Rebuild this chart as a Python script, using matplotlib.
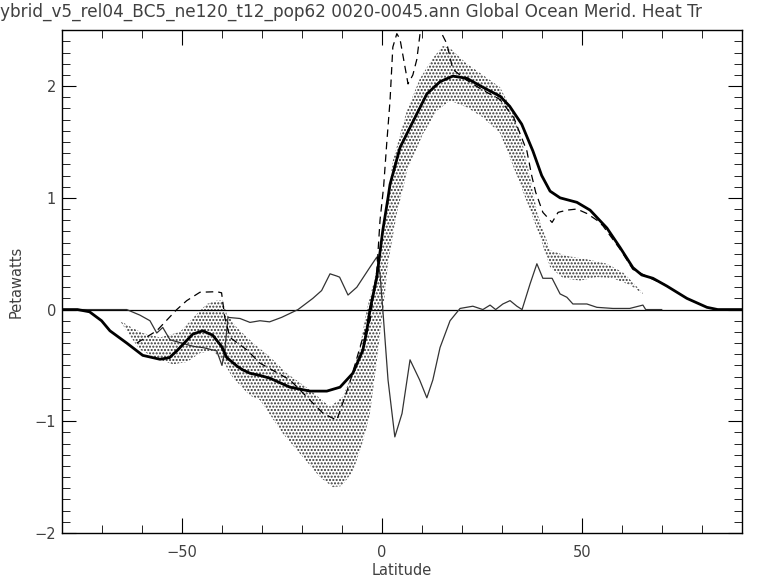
import numpy as np
import matplotlib.pyplot as plt

# model total transport (thick line)
lat_model = [-80, -76, -73, -70, -67.9, -63.7, -59.7, -55.4, -53, -51.2, -47.2, -44.7, -42.2, -40,
             -38.7, -36, -34.7, -32.9, -30.4, -27.9, -22.9, -17.9, -13.7, -10.4, -7.2, -4.7, -3.7,
             -2.9, -1.2, 0.3, 1.6, 2.1, 4.6, 7.1, 11.3, 14.6, 17.8, 21.3, 25.3, 29.6, 32, 35, 37.8,
             40, 42.1, 44.6, 48.8, 52.1, 56.3, 59.6, 62.8, 65, 67.8, 71.3, 76.3, 81.3, 84, 90]
ht_model = [0, 0, -0.02, -0.1, -0.19, -0.30, -0.41, -0.445, -0.43, -0.37, -0.22, -0.19, -0.23, -0.33,
            -0.43, -0.51, -0.54, -0.57, -0.59, -0.615, -0.695, -0.73, -0.73, -0.695, -0.57, -0.365, -0.19,
            0, 0.29, 0.71, 1.0, 1.12, 1.45, 1.63, 1.93, 2.04, 2.09, 2.07, 1.99, 1.91, 1.82, 1.66, 1.42,
            1.20, 1.06, 1.0, 0.96, 0.89, 0.73, 0.555, 0.375, 0.31, 0.28, 0.21, 0.10, 0.02, 0.0, 0]

# second component (thin line)
lat_comp = [-75, -67.9, -63.7, -60.4, -57.9, -56.2, -54.7, -52.9, -50, -47, -44.7, -41.2, -39.9, -39.2,
            -38.4, -35.4, -32.9, -30.4, -28, -25, -20.9, -17.2, -15, -12.9, -11.2, -10.5, -8.4, -6.2,
            -2.9, -1.2, -0.4, 0.4, 1.6, 3.3, 5.1, 7.1, 9.5, 11.3, 12.8, 14.6, 17.1, 19.6, 22.8, 25.3,
            27.1, 28.5, 30.3, 32.1, 33.8, 35.1, 37.1, 38.8, 40.3, 42.6, 44.6, 46.3, 47.8, 51.3, 53.8,
            57.8, 62, 65.3, 66, 70]
ht_comp = [0, 0, 0, -0.05, -0.1, -0.21, -0.16, -0.27, -0.30, -0.33, -0.34, -0.37, -0.5, -0.37,
           -0.07, -0.08, -0.115, -0.10, -0.11, -0.07, 0.0, 0.10, 0.17, 0.32, 0.30, 0.29, 0.13, 0.2,
           0.38, 0.47, 0.32, -0.05, -0.63, -1.14, -0.93, -0.45, -0.63, -0.79, -0.63, -0.34, -0.1, 0.01,
           0.03, 0, 0.04, 0, 0.05, 0.08, 0.03, 0, 0.23, 0.41, 0.28, 0.28, 0.14, 0.11, 0.05, 0.05, 0.02,
           0.01, 0.01, 0.04, 0.0, 0.0]

# observed estimate (dashed line)
lat_obs = [-61.2, -56.2, -51.2, -48.7, -45.4, -41.2, -40, -39.2, -37.9, -33.7, -30.4, -22.9, -14.6,
           -11.2, -8, -4.7, -2.9, -1.2, -0.4, 0.5, 1.3, 2.1, 2.8, 3.8, 4.6, 5.3, 6.6, 7.8, 8.8, 9.6,
           10.3, 12, 14.6, 16.3, 17.8, 21, 25, 29.6, 33, 36.3, 37.5, 38.5, 40.3, 42.6, 44.1, 46.3,
           48.8, 51.3, 53.8, 55.3, 59.6, 62.8, 67.8, 71]
ht_obs = [-0.30, -0.19, 0.0, 0.08, 0.155, 0.16, 0.15, -0.07, -0.25, -0.36, -0.48, -0.63, -0.93,
          -0.99, -0.66, -0.25, -0.1, 0.35, 0.80, 1.1, 1.5, 1.87, 2.35, 2.47, 2.42, 2.28, 2.02, 2.1,
          2.24, 2.47, 2.72, 2.9, 2.5, 2.38, 2.15, 2.06, 1.97, 1.88, 1.72, 1.42, 1.2, 1.05, 0.87, 0.78,
          0.87, 0.89, 0.90, 0.86, 0.80, 0.75, 0.54, 0.36, 0.27, 0.22]

# observational range (stippled band): upper and lower edges
lat_hi = [-65.4, -62, -59.7, -55.4, -50.4, -46.2, -43.7, -41.2, -39.7, -38.7, -36.2, -32.1, -28,
          -23.7, -17.9, -12.9, -9.7, -7, -5.5, -3.7, -0.4, 1.3, 2.1, 2.8, 6.3, 9.6, 12.8, 15.3, 17.1,
          21.3, 25.3, 29.6, 33, 35, 37, 39, 42.1, 46.3, 51.3, 56.3, 60.4, 65.3]
ht_hi = [-0.10, -0.17, -0.21, -0.25, -0.2, -0.04, 0.05, 0.08, 0.08, -0.04, -0.16, -0.30, -0.42,
         -0.57, -0.72, -0.87, -0.78, -0.55, -0.35, 0.0, 0.47, 0.86, 1.15, 1.33, 1.78, 2.07, 2.25, 2.36,
         2.34, 2.20, 2.1, 1.99, 1.75, 1.52, 1.2, 0.85, 0.53, 0.48, 0.45, 0.41, 0.33, 0.15]
lat_lo = [-65.4, -62, -60.4, -55.4, -52.2, -48.7, -45.4, -42.2, -39.7, -37.2, -32.9, -30.4, -24.7,
          -19.7, -15.4, -12.2, -10, -7.2, -5, -3, -1.5, -0.5, 0.4, 1.6, 3.8, 5.8, 6.3, 10.3, 13.8,
          17.1, 21.3, 25.3, 29.6, 33.8, 37.1, 39.6, 42.1, 45.4, 49.6, 53.8, 57.8, 62.1, 65.3]
ht_lo = [-0.10, -0.28, -0.36, -0.45, -0.49, -0.47, -0.39, -0.37, -0.46, -0.61, -0.77, -0.81, -1.11,
         -1.32, -1.50, -1.59, -1.58, -1.45, -1.22, -0.95, -0.55, -0.25, 0.0, 0.41, 0.86, 1.15, 1.24,
         1.57, 1.78, 1.87, 1.81, 1.72, 1.58, 1.2, 0.89, 0.65, 0.38, 0.28, 0.26, 0.29, 0.28, 0.22, 0.14]

title = "ybrid_v5_rel04_BC5_ne120_t12_pop62 0020-0045.ann Global Ocean Merid. Heat Tr"

plt.rcParams['hatch.linewidth'] = 1.0
txt_col = '0.25'

fig = plt.figure(figsize=(7.7, 5.77), dpi=100)
ax = fig.add_axes([0.0799, 0.0763, 0.8834, 0.8712])

# stippled band
ax.fill(np.r_[lat_hi, lat_lo[::-1]], np.r_[ht_hi, ht_lo[::-1]],
        facecolor='none', edgecolor='0.2', lw=0, hatch='.....')
ax.axhline(0, color='black', lw=0.9)
ax.plot(lat_comp, ht_comp, color='0.2', lw=0.9)
ax.plot(lat_obs, ht_obs, color='black', lw=0.9, dashes=(6, 4))
ax.plot(lat_model, ht_model, color='black', lw=2.0)

ax.set_xlim(-80, 90)
ax.set_ylim(-2, 2.5)
ax.set_xticks([-50, 0, 50])
ax.set_xticks(np.arange(-70, 90, 10), minor=True)
ax.set_yticks([-2, -1, 0, 1, 2])
ax.set_yticks(np.arange(-2, 2.51, 0.1), minor=True)
ax.tick_params(which='both', direction='in', top=True, right=True, colors='black',
               labelcolor=txt_col, labelsize=10.5)
ax.tick_params(axis='x', which='major', length=11, pad=9)
ax.tick_params(axis='x', which='minor', length=5.5)
ax.tick_params(axis='y', which='major', length=10, pad=4)
ax.tick_params(axis='y', which='minor', length=5.5)
for s in ax.spines.values():
    s.set_linewidth(1.0)

ax.set_xlabel('Latitude', color=txt_col, fontsize=10.5, labelpad=2)
ax.set_ylabel('Petawatts', color=txt_col, fontsize=10.5, labelpad=8)

fig.text(0.0, 0.979, title, ha='left', va='center', color=txt_col, fontsize=12.2)

fig.savefig('out.png', dpi=100)
